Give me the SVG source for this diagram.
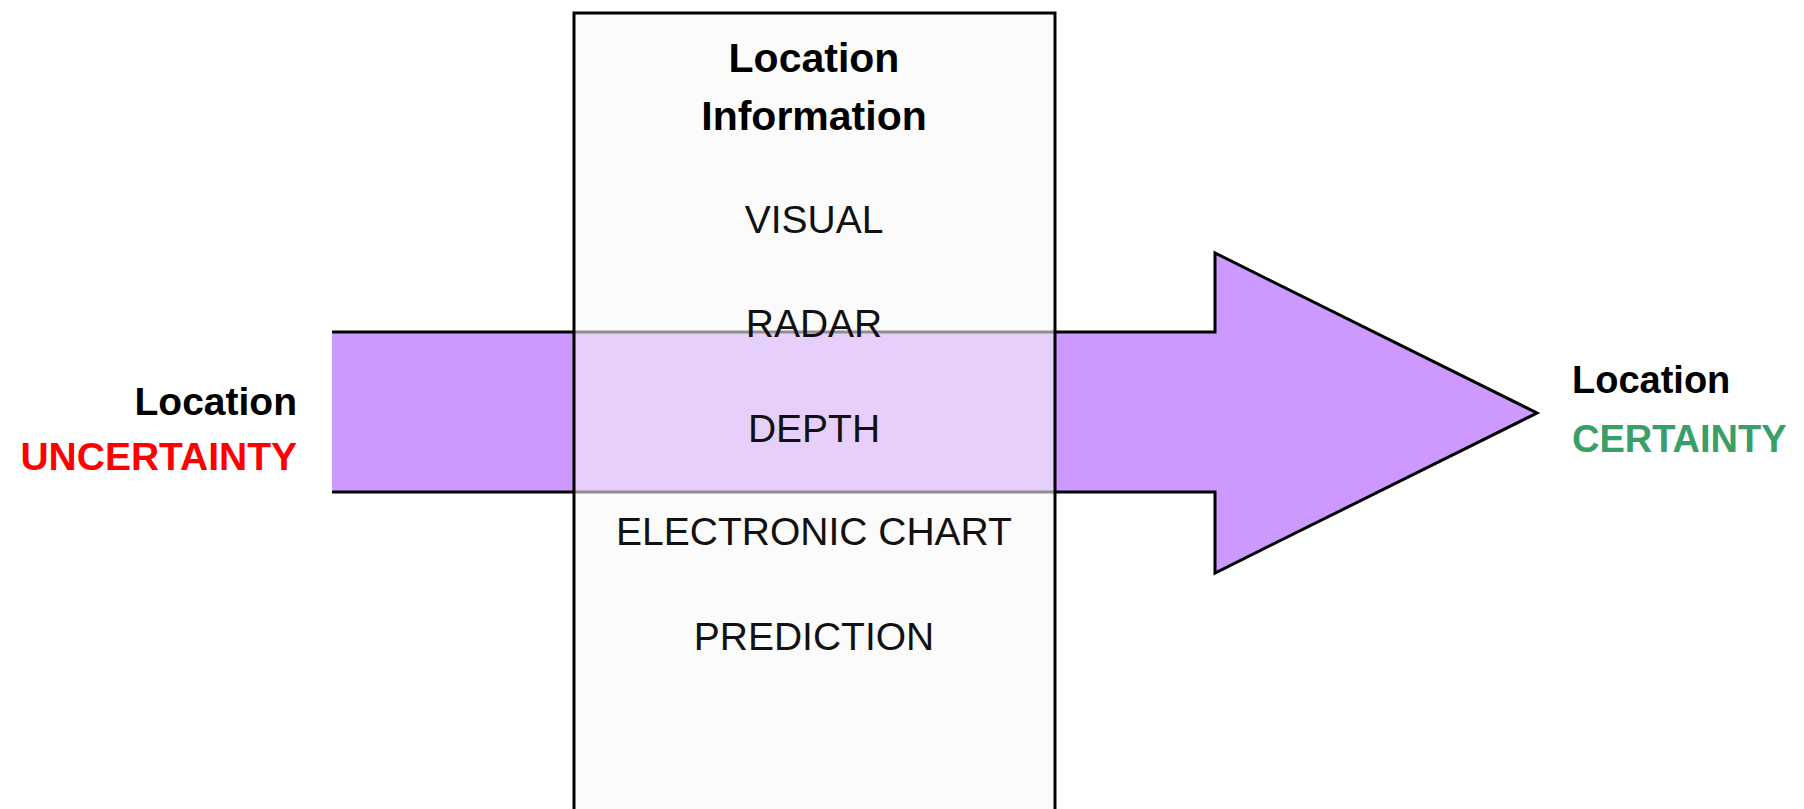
<svg xmlns="http://www.w3.org/2000/svg" width="1804" height="809" viewBox="0 0 1804 809">
  <style>
    .bold { font-family: "Liberation Sans", Arial, sans-serif; font-weight: bold; fill: #000; }
    .item { font-family: "Liberation Sans", Arial, sans-serif; font-size: 39px; fill: #111; text-anchor: middle; }
    .stroke { stroke: #000; stroke-width: 3; fill: none; stroke-linejoin: miter; }
  </style>
  <rect x="0" y="0" width="1804" height="809" fill="#ffffff"/>
  <g id="connectors">
    <g id="block-arrow">
      <path d="M332,332 H1215 V253 L1537,413 L1215,573 V492 H332 Z" fill="#CC99FF"/>
      <path class="stroke" d="M332,332 H1215 V253 L1537,413 L1215,573 V492 H332"/>
    </g>
  </g>
  <g id="info-box">
    <rect x="574" y="13" width="481" height="830" fill="#f8f8f8" fill-opacity="0.58" stroke="#000" stroke-width="3"/>
    <text class="bold" x="814" y="72" font-size="41" text-anchor="middle">Location</text>
    <text class="bold" x="814" y="130" font-size="41" text-anchor="middle">Information</text>
    <text class="item" x="814" y="233">VISUAL</text>
    <text class="item" x="814" y="337">RADAR</text>
    <text class="item" x="814" y="442">DEPTH</text>
    <text class="item" x="814" y="545">ELECTRONIC CHART</text>
    <text class="item" x="814" y="650">PREDICTION</text>
  </g>
  <g id="label-uncertainty">
    <text class="bold" x="297" y="415" font-size="39" text-anchor="end">Location</text>
    <text class="bold" x="297" y="470" font-size="39" text-anchor="end" style="fill:#FF0000">UNCERTAINTY</text>
  </g>
  <g id="label-certainty">
    <text class="bold" x="1572" y="393" font-size="38">Location</text>
    <text class="bold" x="1572" y="452" font-size="38" style="fill:#3A9E68">CERTAINTY</text>
  </g>
</svg>
